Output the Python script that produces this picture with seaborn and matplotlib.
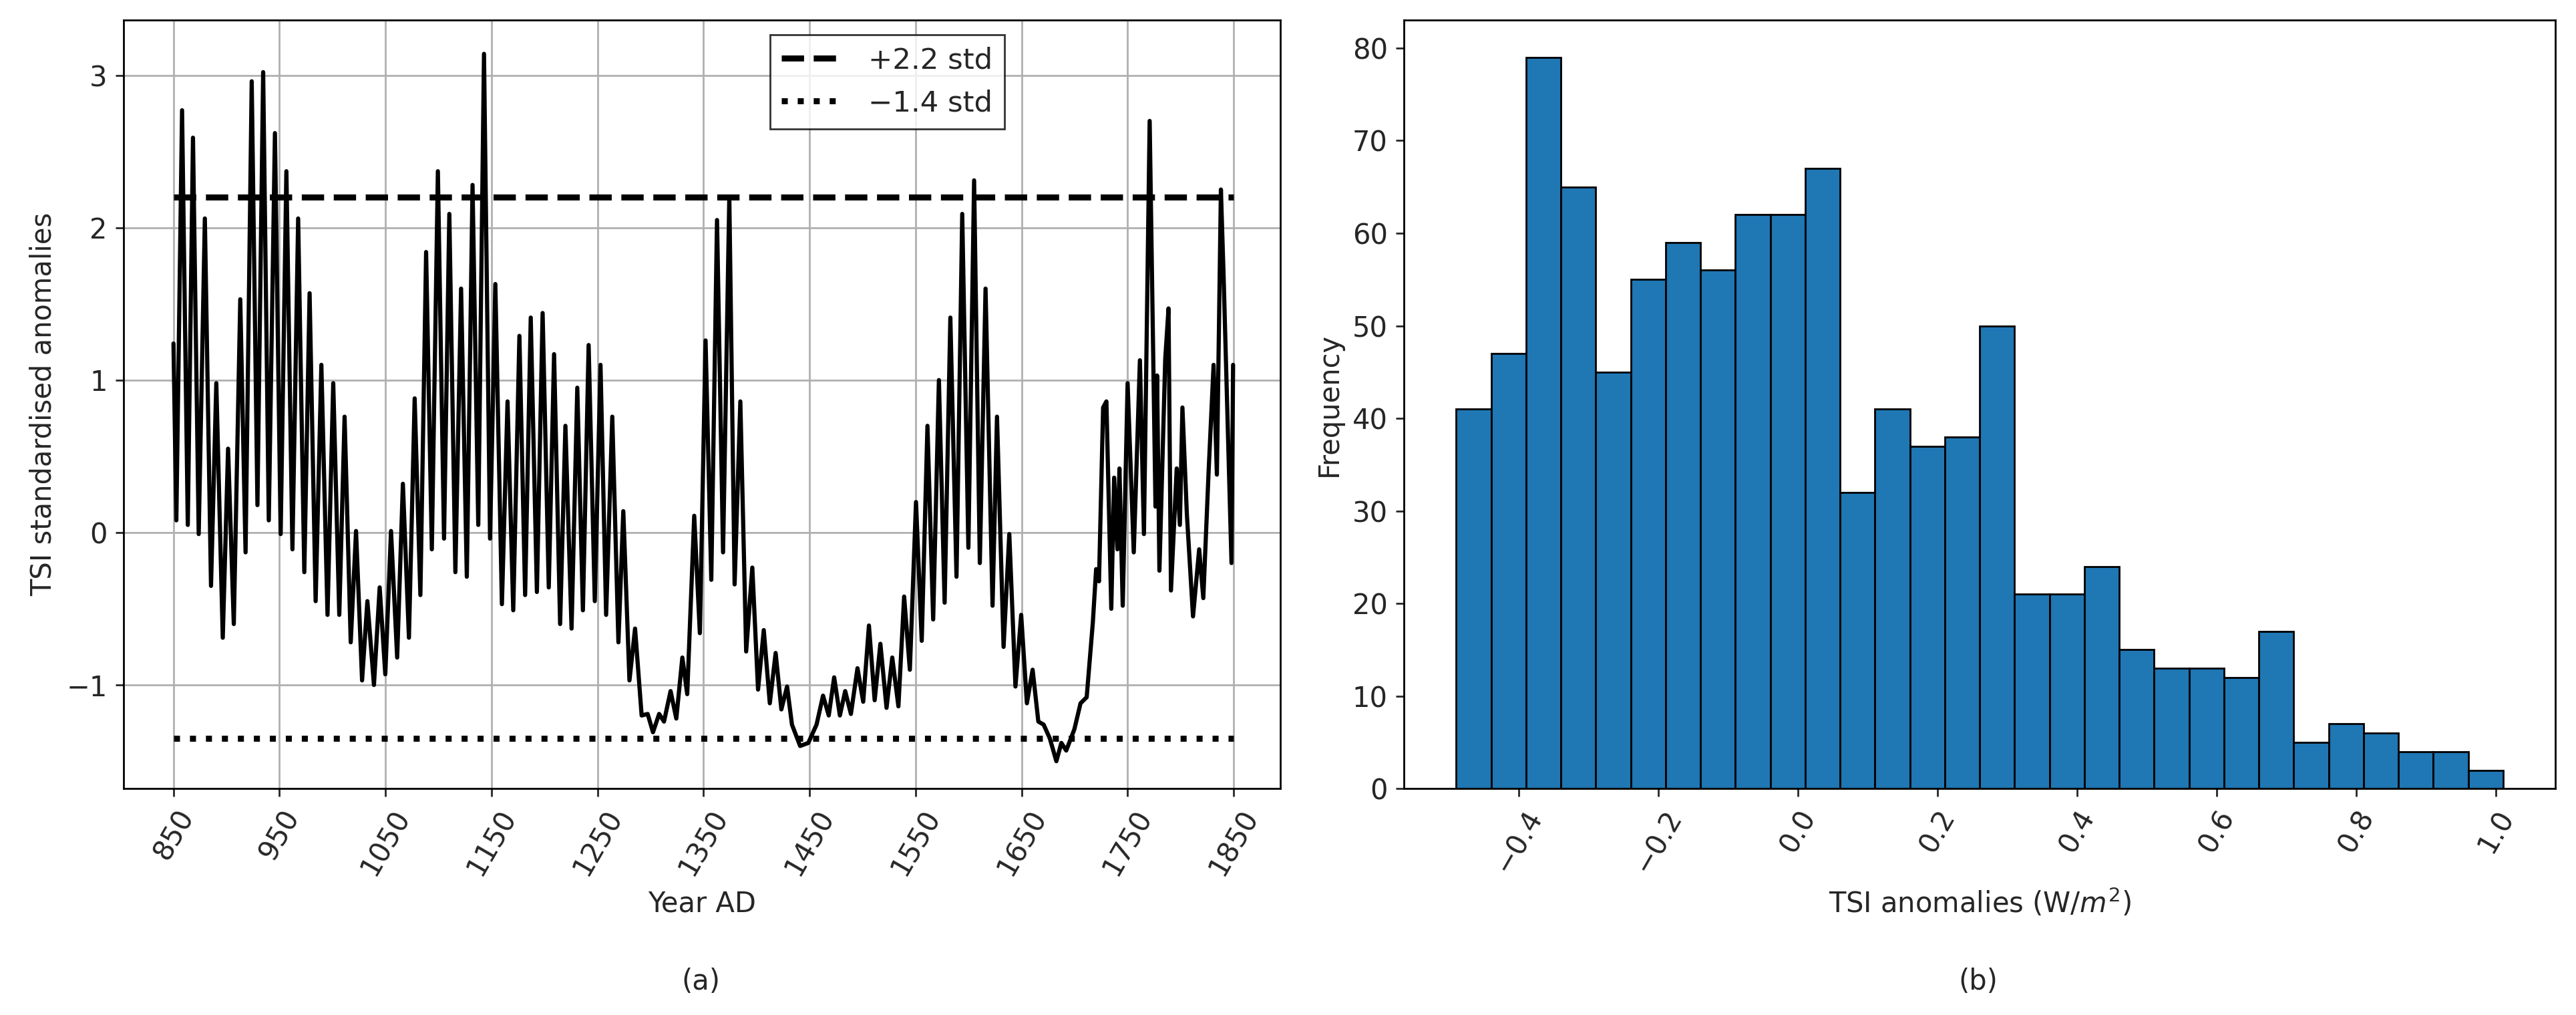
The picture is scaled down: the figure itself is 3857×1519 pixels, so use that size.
import numpy as np
import pandas as pd
import seaborn as sns
import matplotlib.pyplot as plt

# TSI standardised anomalies, turning points
years = [850, 852.7, 858.1, 863.5, 868.4, 873.8, 879.6, 885.4, 890.4, 896.5,
         901.5, 906.9, 913.0, 918.0, 923.8, 929.2, 934.6, 939.9, 945.7, 951.1,
         956.5, 962.2, 967.6, 973.4, 978.4, 984.1, 989.5, 995.3, 1000.7, 1006.4,
         1011.4, 1017.2, 1022.2, 1027.9, 1032.9, 1039.1, 1044.5, 1049.8, 1055.2, 1061.0,
         1066.4, 1072.1, 1077.5, 1082.9, 1088.3, 1093.7, 1099.4, 1105.2, 1110.2, 1115.9,
         1121.3, 1126.7, 1132.1, 1137.5, 1142.9, 1148.6, 1153.6, 1159.8, 1165.1, 1170.5,
         1176.3, 1181.7, 1187.0, 1192.8, 1198.2, 1204.0, 1209.0, 1214.7, 1219.7, 1225.5,
         1230.9, 1236.2, 1241.6, 1247.4, 1252.8, 1258.1, 1263.9, 1269.7, 1274.3, 1280.1,
         1285.4, 1291.6, 1297.3, 1302.3, 1308.1, 1312.7, 1318.9, 1324.3, 1330.0, 1334.6,
         1341.2, 1346.5, 1351.9, 1357.3, 1362.7, 1368.4,
         1374.3, 1379.3, 1384.7, 1390.2, 1396.0, 1401.4, 1406.8, 1412.5, 1418.0, 1423.4,
         1428.8, 1433.4, 1441.1, 1448.8, 1456.6, 1462.7, 1468.1, 1473.2, 1478.6, 1483.6,
         1489.0, 1495.2, 1500.6, 1506.0, 1511.4, 1516.8, 1522.6, 1528.0, 1533.8, 1539.2,
         1544.6, 1550.4, 1555.8, 1561.2, 1566.6, 1572.0, 1577.4, 1582.8, 1588.6, 1594.0,
         1599.8, 1605.2, 1610.6, 1616.0, 1622.6, 1626.8, 1633.0, 1638.4, 1644.2, 1649.6,
         1655.0, 1660.4, 1665.8, 1670.8, 1676.6, 1682.8, 1687.5, 1692.1, 1699.8, 1705.6,
         1711.4, 1717.2, 1720.3, 1723.0, 1726.9, 1730.0, 1734.6, 1737.3, 1740.4, 1742.3,
         1745.4, 1750.0, 1755.8, 1761.6, 1765.4, 1770.8, 1776.3, 1777.8, 1780.0, 1785.5,
         1788.6, 1790.9, 1796.3, 1799.3, 1801.7, 1805.9, 1811.7, 1817.5, 1821.4, 1826.4,
         1831.1, 1834.2, 1838.0, 1840.6, 1844.9, 1848.0, 1849.5]
tsi_std = [1.24, 0.08, 2.77, 0.05, 2.59, -0.01, 2.06, -0.35, 0.98, -0.69,
           0.55, -0.60, 1.53, -0.13, 2.96, 0.18, 3.02, 0.08, 2.62, -0.01,
           2.37, -0.11, 2.06, -0.26, 1.57, -0.45, 1.10, -0.54, 0.98, -0.54,
           0.76, -0.72, 0.01, -0.97, -0.45, -1.00, -0.36, -0.93, 0.01, -0.82,
           0.32, -0.69, 0.88, -0.41, 1.84, -0.11, 2.37, -0.04, 2.09, -0.26,
           1.60, -0.29, 2.28, 0.05, 3.14, -0.04, 1.63, -0.47, 0.86, -0.51,
           1.29, -0.41, 1.41, -0.39, 1.44, -0.36, 1.17, -0.60, 0.70, -0.63,
           0.95, -0.51, 1.23, -0.45, 1.10, -0.54, 0.76, -0.72, 0.14, -0.97,
           -0.63, -1.20, -1.19, -1.31, -1.19, -1.24, -1.04, -1.22, -0.82, -1.06,
           0.11, -0.66, 1.26, -0.31, 2.05, -0.13,
           2.20, -0.34, 0.86, -0.78, -0.23, -1.03, -0.64, -1.12, -0.79, -1.16,
           -1.01, -1.26, -1.40, -1.38, -1.26, -1.07, -1.20, -0.95, -1.20, -1.04,
           -1.19, -0.89, -1.11, -0.61, -1.10, -0.73, -1.15, -0.82, -1.14, -0.42,
           -0.90, 0.20, -0.71, 0.70, -0.57, 1.00, -0.46, 1.41, -0.29, 2.09,
           -0.10, 2.31, -0.20, 1.60, -0.48, 0.76, -0.75, -0.01, -1.01, -0.54,
           -1.12, -0.90, -1.24, -1.26, -1.35, -1.50, -1.38, -1.43, -1.29, -1.12,
           -1.08, -0.59, -0.24, -0.32, 0.82, 0.86, -0.50, 0.36, -0.11, 0.42,
           -0.48, 0.98, -0.13, 1.13, -0.01, 2.70, 0.17, 1.03, -0.25, 1.14,
           1.47, -0.38, 0.42, 0.05, 0.82, 0.12, -0.55, -0.11, -0.43, 0.40,
           1.10, 0.38, 2.25, 1.67, 0.59, -0.20, 1.10]
upper_thr = 2.2
lower_thr = -1.35
year_ticks = [850, 950, 1050, 1150, 1250, 1350, 1450, 1550, 1650, 1750, 1850]

# histogram of TSI anomalies (W/m2)
bin_edges = [-0.49, -0.44, -0.39, -0.34, -0.29, -0.24, -0.19, -0.14, -0.09, -0.04,
             0.01, 0.06, 0.11, 0.16, 0.21, 0.26, 0.31, 0.36, 0.41, 0.46,
             0.51, 0.56, 0.61, 0.66, 0.71, 0.76, 0.81, 0.86, 0.91, 0.96, 1.01]
counts = [41, 47, 79, 65, 45, 55, 59, 56, 62, 62,
          67, 32, 41, 37, 38, 50, 21, 21, 24, 15,
          13, 13, 12, 17, 5, 7, 6, 4, 4, 2]

sns.set_style("white")
plt.rcParams['font.family'] = ['DejaVu Sans']
plt.rcParams['font.size'] = 12

fig = plt.figure(figsize=(15.428, 6.076), dpi=250)
ax1 = fig.add_axes([0.048, 0.223, 0.449, 0.757])
ax2 = fig.add_axes([0.545, 0.223, 0.447, 0.757])

ts = pd.DataFrame({"year": years, "tsi": tsi_std})
sns.lineplot(data=ts, x="year", y="tsi", ax=ax1, color="black", lw=1.8, sort=False)
ax1.hlines(upper_thr, 850, 1850, colors="black", linestyles="--", lw=2.6, label="+2.2 std")
ax1.hlines(lower_thr, 850, 1850, colors="black", linestyles=":", lw=2.6, label="\u22121.4 std")
ax1.set_xlim(803, 1894)
ax1.set_ylim(-1.68, 3.36)
ax1.set_xticks(year_ticks)
ax1.tick_params(axis="x", rotation=60, labelsize=12)
ax1.tick_params(axis="y", labelsize=12)
ax1.tick_params(left=True, bottom=True)
ax1.grid(True, color="#b0b0b0", lw=0.8)
ax1.set_xlabel("Year AD", fontsize=12)
ax1.set_ylabel("TSI standardised anomalies", fontsize=12)
leg = ax1.legend(loc="upper center", bbox_to_anchor=(0.66, 1.0), fancybox=False,
                 edgecolor="black", fontsize=12.5, handlelength=2.2)
leg.get_frame().set_linewidth(0.8)
for sp in ax1.spines.values():
    sp.set_color("black")

centers = [(a + b) / 2 for a, b in zip(bin_edges[:-1], bin_edges[1:])]
sns.histplot(x=centers, weights=counts, bins=bin_edges, ax=ax2,
             color="#1f77b4", alpha=1, edgecolor="black", linewidth=0.8)
ax2.set_xlim(-0.565, 1.085)
ax2.set_ylim(0, 83)
ax2.set_xticks([-0.4, -0.2, 0.0, 0.2, 0.4, 0.6, 0.8, 1.0])
ax2.tick_params(axis="x", rotation=60, labelsize=12)
ax2.tick_params(axis="y", labelsize=12)
ax2.tick_params(left=True, bottom=True)
ax2.set_xlabel("TSI anomalies (W/$m^2$)", fontsize=12)
ax2.set_ylabel("Frequency", fontsize=12)
for sp in ax2.spines.values():
    sp.set_color("black")

fig.text(0.272, 0.025, "(a)", ha="center", fontsize=12)
fig.text(0.768, 0.025, "(b)", ha="center", fontsize=12)

fig.savefig("out.png", dpi=250)
